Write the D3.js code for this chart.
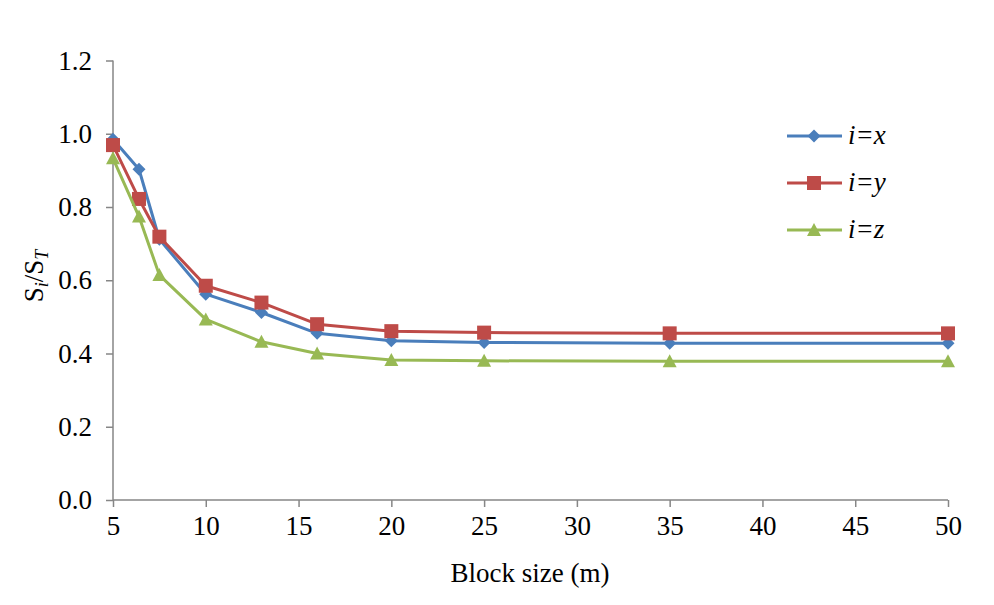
<!DOCTYPE html>
<html><head><meta charset="utf-8">
<script src="https://cdn.jsdelivr.net/npm/d3@7"></script>
<style>body{margin:0;background:#fff} svg text{font-family:"Liberation Serif","DejaVu Serif",serif;}</style>
</head><body>
<svg id="c" width="994" height="605"></svg>
<script>
const blockSizes = [5, 6.4, 7.5, 10, 13, 16, 20, 25, 35, 50];
const seriesX = [0.985, 0.903, 0.712, 0.562, 0.512, 0.455, 0.435, 0.430, 0.428, 0.428];
const seriesY = [0.969, 0.822, 0.719, 0.585, 0.539, 0.480, 0.461, 0.457, 0.455, 0.455];
const seriesZ = [0.933, 0.774, 0.614, 0.493, 0.432, 0.400, 0.382, 0.380, 0.379, 0.379];
const xTicks = [5, 10, 15, 20, 25, 30, 35, 40, 45, 50];
const yTicks = [0, 0.2, 0.4, 0.6, 0.8, 1.0, 1.2];
const seriesNames = ["x", "y", "z"];

const svg = d3.select("#c");
const x = d3.scaleLinear().domain([5, 50]).range([113, 948]);
const y = d3.scaleLinear().domain([0, 1.2]).range([500, 60.5]);
const axisColor = "#868686";
const FS = "27px";

const xa = svg.append("g").attr("transform", "translate(0,500)")
  .call(d3.axisBottom(x).tickValues(xTicks).tickSize(7).tickPadding(9).tickFormat(d3.format("d")));
const ya = svg.append("g").attr("transform", "translate(113,0)")
  .call(d3.axisLeft(y).tickValues(yTicks).tickSize(7).tickPadding(14).tickFormat(d3.format(".1f")));
[xa, ya].forEach(a => {
  a.attr("font-family", null).attr("font-size", null);
  a.select(".domain").attr("stroke", axisColor).attr("stroke-width", 1.5);
  a.selectAll(".tick line").attr("stroke", axisColor).attr("stroke-width", 1.5);
  a.selectAll("text").style("font-size", FS).attr("fill", "#000");
});
xa.select(".domain").attr("d", "M113,0H948");
ya.select(".domain").attr("d", "M0,60.5V500");

const series = [
  {name: "x", vals: seriesX, color: "#4A7EBB", sym: "diamond"},
  {name: "y", vals: seriesY, color: "#BE4B48", sym: "square"},
  {name: "z", vals: seriesZ, color: "#98B954", sym: "triangle"}
];

function marker(g, sym, color, cx, cy) {
  if (sym === "diamond") {
    g.append("path").attr("d", `M${cx},${cy-6.5}L${cx+6.5},${cy}L${cx},${cy+6.5}L${cx-6.5},${cy}Z`).attr("fill", color);
  } else if (sym === "square") {
    g.append("rect").attr("x", cx-7).attr("y", cy-7).attr("width", 14).attr("height", 14).attr("fill", color);
  } else {
    g.append("path").attr("d", `M${cx},${cy-7}L${cx+7},${cy+6}L${cx-7},${cy+6}Z`).attr("fill", color);
  }
}

const line = d3.line().x(d => x(d[0])).y(d => y(d[1]));
series.forEach(s => {
  const pts = blockSizes.map((b, i) => [b, s.vals[i]]);
  const g = svg.append("g");
  g.append("path").attr("d", line(pts)).attr("fill", "none").attr("stroke", s.color).attr("stroke-width", 3).attr("stroke-linejoin", "round");
  pts.forEach(p => marker(g, s.sym, s.color, x(p[0]), y(p[1])));
});

// legend
series.forEach((s, i) => {
  const ly = 136 + i * 47;
  const g = svg.append("g");
  g.append("line").attr("x1", 787).attr("x2", 842).attr("y1", ly).attr("y2", ly).attr("stroke", s.color).attr("stroke-width", 3);
  marker(g, s.sym, s.color, 814, ly);
  g.append("text").attr("x", 848).attr("y", ly + 8).style("font-size", FS).style("font-style", "italic")
    .text("i=" + s.name);
});

// axis titles
svg.append("text").attr("x", 530).attr("y", 582).attr("text-anchor", "middle").style("font-size", FS).text("Block size (m)");
const yt = svg.append("text").attr("transform", "translate(43,276) rotate(-90)").attr("text-anchor", "middle").style("font-size", FS);
yt.append("tspan").text("S");
yt.append("tspan").style("font-size", "18px").style("font-style", "italic").attr("dy", 5).text("i");
yt.append("tspan").attr("dy", -5).text("/S");
yt.append("tspan").style("font-size", "18px").style("font-style", "italic").attr("dy", 5).text("T");
</script>
</body></html>
